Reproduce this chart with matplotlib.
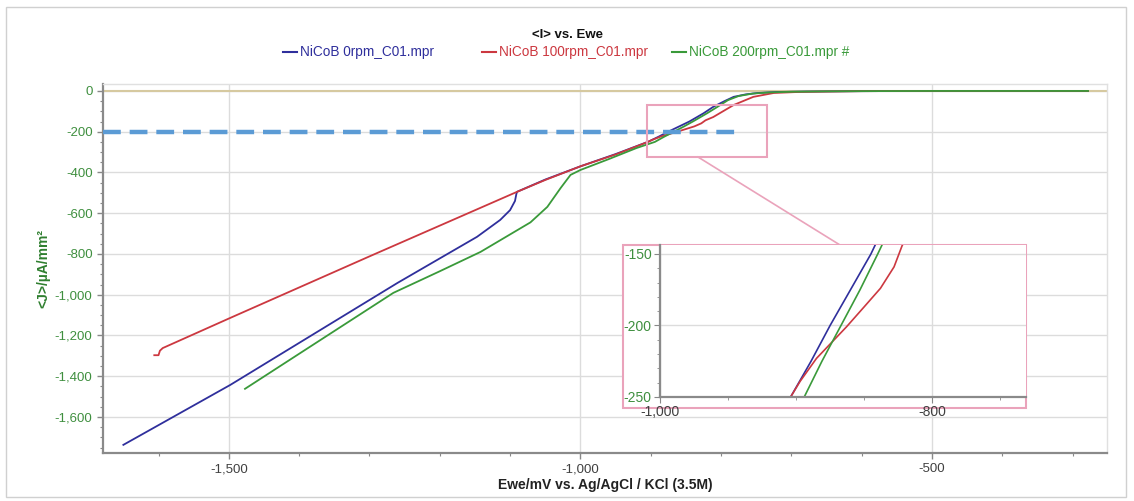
import matplotlib
matplotlib.use("Agg")
import matplotlib.pyplot as plt
from matplotlib.patches import Rectangle
from matplotlib.lines import Line2D
from matplotlib.ticker import FuncFormatter, MultipleLocator

plt.rcParams['font.family'] = ['Liberation Sans', 'DejaVu Sans']

# data (Ewe in mV, <J> in uA/mm2)
blue_x = [-1650, -1498, -1260, -1147, -1114, -1100, -1093, -1091, -1090, -1050, -1000, -950,
          -904, -889, -875, -860, -845, -825, -811, -795, -782, -765, -748, -720, -680, -600, -500, -400, -278]
blue_y = [-1737, -1443, -942, -716, -633, -585, -540, -505, -495, -435, -370, -310,
          -250, -225, -200, -175, -150, -110, -78, -50, -29, -17, -10, -5, -3, -1, 0, 0, 0]

red_x = [-1606, -1600, -1598, -1594, -1498, -1300, -1090, -1050, -1000, -950,
         -904, -897, -885, -873, -863, -850, -838, -828, -822, -811, -782, -754, -725, -690, -650, -600, -500, -400, -278]
red_y = [-1297, -1297, -1275, -1262, -1114, -812, -495, -437, -370, -312,
         -250, -239, -223, -211, -201, -187, -174, -159, -144, -128, -69, -29, -10, -5, -3, -1, 0, 0, 0]

green_x = [-1477, -1400, -1266, -1200, -1142, -1071, -1047, -1028, -1014, -1000, -960, -920,
           -894, -881, -867, -853, -840, -820, -805, -790, -775, -755, -730, -700, -650, -600, -500, -400, -278]
green_y = [-1462, -1290, -991, -885, -790, -645, -569, -476, -412, -388, -335, -280,
           -250, -225, -200, -175, -150, -110, -78, -45, -25, -13, -7, -4, -2, -1, 0, 0, 0]

labels = ['NiCoB 0rpm_C01.mpr', 'NiCoB 100rpm_C01.mpr', 'NiCoB 200rpm_C01.mpr #']
colors = ['#2f2f9c', '#cc3840', '#3a9a3a']
series = [(blue_x, blue_y), (red_x, red_y), (green_x, green_y)]

tick_green = '#3f8f3f'
pink = '#eaa3bb'
W, H = 1134, 501

fig = plt.figure(figsize=(11.34, 5.01), dpi=100)
fig.patches.append(Rectangle((0.005, 0.008), 0.988, 0.978, transform=fig.transFigure,
                             fill=False, edgecolor='#d0d0d0', lw=1))

ax = fig.add_axes([0.0908, 0.0958, 0.8854, 0.7365])
ax.set_xlim(-1679, -251)
ax.set_ylim(-1777, 34)

for (x, y), c in zip(series, colors):
    ax.plot(x, y, color=c, lw=1.3, zorder=3)
ax.axhline(0, color='#d6c9a0', lw=1.5, zorder=2)
ax.plot([-1679, -772], [-200, -200], color='#5b9bd5', lw=3.2, dashes=(4, 2), zorder=4)
ax.add_patch(Rectangle((-905, -324), 171, 255, fill=False, edgecolor=pink, lw=1.5, zorder=5))

ax.xaxis.set_major_locator(MultipleLocator(500))
ax.xaxis.set_minor_locator(MultipleLocator(100))
ax.yaxis.set_major_locator(MultipleLocator(200))
ax.yaxis.set_minor_locator(MultipleLocator(50))
fmt = FuncFormatter(lambda v, p: f"{v:,.0f}")
ax.xaxis.set_major_formatter(fmt)
ax.yaxis.set_major_formatter(fmt)
ax.grid(True, which='major', color='#dcdcdc', lw=1)
ax.tick_params(axis='both', which='major', length=4, width=1, color='#888888', labelsize=9.5)
ax.tick_params(axis='both', which='minor', length=2, width=0.8, color='#888888')
ax.tick_params(axis='y', labelcolor=tick_green)
ax.tick_params(axis='x', labelcolor='#404040')
for s in ['left', 'bottom']:
    ax.spines[s].set_color('#8a8a8a')
    ax.spines[s].set_linewidth(1.6)
for s in ['top', 'right']:
    ax.spines[s].set_color('#e0e0e0')
    ax.spines[s].set_linewidth(1)

ax.set_xlabel('Ewe/mV vs. Ag/AgCl / KCl (3.5M)', fontsize=10, fontweight='bold', color='#222222', labelpad=2)
ax.set_ylabel('<J>/µA/mm²', fontsize=10, fontweight='bold', color='#2f7f2f', labelpad=3)
fig.text(0.5, 0.93, '<I> vs. Ewe', ha='center', va='center', fontsize=9.5, fontweight='bold', color='#111111')

# legend entries placed like the original
leg_x = [283, 482, 672]
for lx, lab, c in zip(leg_x, labels, colors):
    fig.lines.append(Line2D([lx / W, (lx + 14) / W], [1 - 52 / H] * 2, transform=fig.transFigure, color=c, lw=1.5))
    fig.text((lx + 17) / W, 1 - 52 / H, lab, ha='left', va='center', fontsize=9.8, color=c)

# zoomed inset
fig.patches.append(Rectangle((0.549, 0.1856), 0.3554, 0.3253, transform=fig.transFigure,
                             facecolor='white', edgecolor=pink, lw=1.5, zorder=6))
fig.lines.append(Line2D([698 / W, 840 / W], [1 - 157 / H, 1 - 245 / H], transform=fig.transFigure,
                        color=pink, lw=1.2, zorder=6))
axi = fig.add_axes([0.582, 0.2076, 0.3228, 0.3034], zorder=7)
for (x, y), c in zip(series, colors):
    axi.plot(x, y, color=c, lw=1.2)
axi.set_xlim(-1000, -731)
axi.set_ylim(-250, -143.7)
axi.set_xticks([-1000, -800])
axi.set_yticks([-250, -200, -150])
axi.xaxis.set_minor_locator(MultipleLocator(50))
axi.yaxis.set_minor_locator(MultipleLocator(10))
axi.xaxis.set_major_formatter(fmt)
axi.yaxis.set_major_formatter(fmt)
axi.grid(True, which='major', color='#dcdcdc', lw=1)
axi.tick_params(axis='both', which='major', length=4, color='#888888', labelsize=10, pad=2)
axi.tick_params(axis='both', which='minor', length=2, color='#888888')
axi.tick_params(axis='y', labelcolor=tick_green)
axi.tick_params(axis='x', labelcolor='#404040')
for s in ['left', 'bottom']:
    axi.spines[s].set_color('#8a8a8a')
    axi.spines[s].set_linewidth(1.6)
for s in ['top', 'right']:
    axi.spines[s].set_visible(False)

fig.savefig('out.png', dpi=100)
